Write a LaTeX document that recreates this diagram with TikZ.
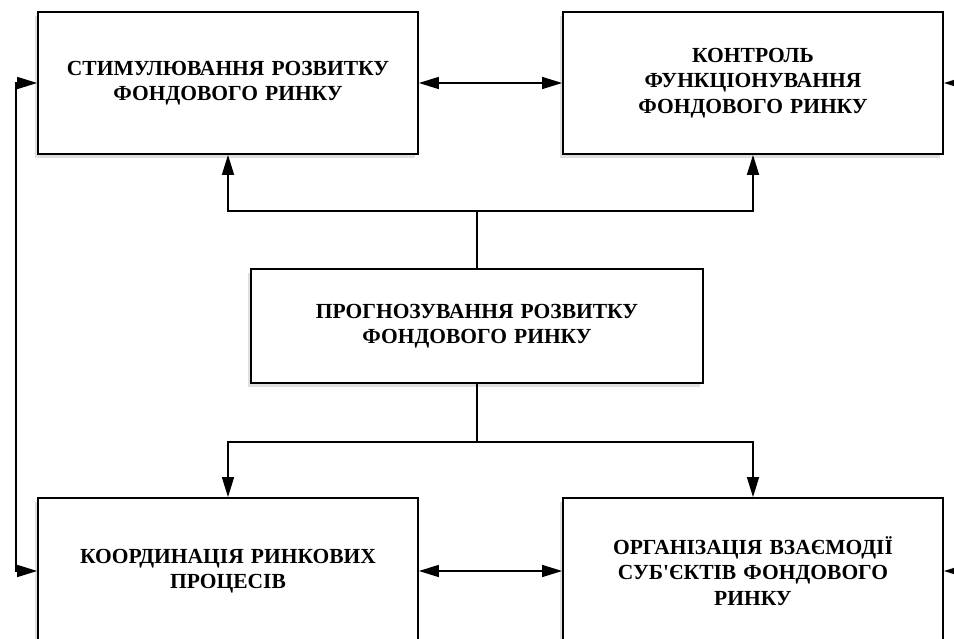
\documentclass[tikz,border=0pt]{standalone}
\usepackage{fontspec}
\setmainfont{Liberation Serif}[Ligatures=TeXOff]
\usetikzlibrary{arrows.meta,shadows}

\tikzset{
  funcbox/.style={draw, line width=1.8pt, fill=white, align=center,
    minimum width=380pt, minimum height=142pt, text width=370pt,
    font=\fontsize{21.5}{25.5}\selectfont\bfseries,
    drop shadow={shadow xshift=-3pt, shadow yshift=-4pt, opacity=0.25}},
  link/.style={line width=1.6pt}
}

\begin{document}
\begin{tikzpicture}[x=1pt, y=-1pt, >={Triangle[length=20pt,width=12pt]}]
    \useasboundingbox (0,0) rectangle (954,639);
    \clip (0,0) rectangle (954,639);
    \node[funcbox] (stim) at (228,83) {СТИМУЛЮВАННЯ РОЗВИТКУ\\ФОНДОВОГО РИНКУ};
    \node[funcbox] (kontr) at (753,83) {КОНТРОЛЬ\\ФУНКЦІОНУВАННЯ\\ФОНДОВОГО РИНКУ};
    \node[funcbox, minimum width=452pt, minimum height=114pt] (prog) at (477,326)
        {ПРОГНОЗУВАННЯ РОЗВИТКУ\\ФОНДОВОГО РИНКУ};
    \node[funcbox, minimum height=146pt] (koord) at (228,571) {КООРДИНАЦІЯ РИНКОВИХ\\ПРОЦЕСІВ};
    \node[funcbox, minimum height=146pt] (org) at (753,571)
        {ОРГАНІЗАЦІЯ ВЗАЄМОДІЇ\\СУБ'ЄКТІВ ФОНДОВОГО\\РИНКУ};
    \draw[link, <->] (stim.east) -- (kontr.west);
    \draw[link, <->] (koord.east) -- (org.west);
    \draw[link] (prog.north) -- ++(0,-57) coordinate (upj);
    \draw[link, ->] (upj) -| (stim.south);
    \draw[link, ->] (upj) -| (kontr.south);
    \draw[link] (prog.south) -- ++(0,58) coordinate (downj);
    \draw[link, ->] (downj) -| (koord.north);
    \draw[link, ->] (downj) -| (org.north);
    \draw[link, <->] (stim.west) -- ++(-21,0) |- (koord.west);
    \draw[link, <->] (kontr.east) -- ++(21,0) |- (org.east);
\end{tikzpicture}
\end{document}
